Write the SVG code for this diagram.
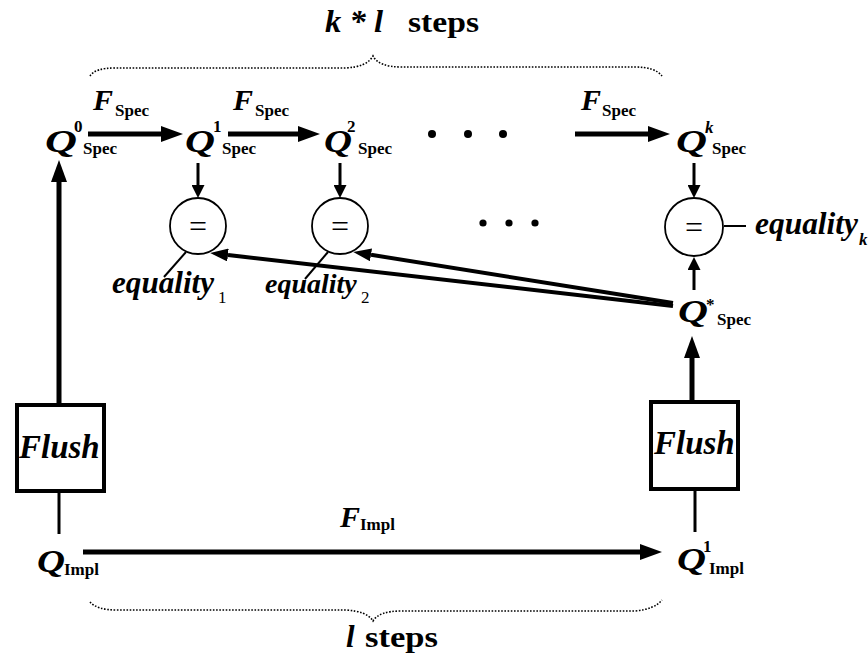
<svg xmlns="http://www.w3.org/2000/svg" width="868" height="658" viewBox="0 0 868 658">
<style>
text{font-family:"Liberation Serif","Times New Roman",serif;fill:#000}
.bi{font-weight:bold;font-style:italic}
.b{font-weight:bold}
.q{font-weight:bold;font-style:italic;font-size:32px}
.f{font-weight:bold;font-style:italic;font-size:30px}
.sub{font-weight:bold;font-size:17px}
.sup{font-weight:bold;font-size:17px}
.eq{font-weight:bold;font-style:italic;font-size:32px}
.esub{font-size:17px}
.thick{stroke:#000;stroke-width:5;fill:none}
.mid{stroke:#000;stroke-width:4;fill:none}
.thin{stroke:#000;stroke-width:3;fill:none}
.hair{stroke:#000;stroke-width:2;fill:none}
.brace{stroke:#000;stroke-width:1.6;fill:none;stroke-dasharray:1.6 1.6}
.box{stroke:#000;stroke-width:4;fill:#fff}
.circ{stroke:#000;stroke-width:1.8;fill:#fff}
</style>
<defs>
<marker id="big" markerUnits="userSpaceOnUse" markerWidth="22" markerHeight="16" viewBox="0 0 22 16" refX="0" refY="8" orient="auto"><path d="M0,0 L22,8 L0,16 z" fill="#000"/></marker>
<marker id="med" markerUnits="userSpaceOnUse" markerWidth="18" markerHeight="13" viewBox="0 0 18 13" refX="0" refY="6.5" orient="auto"><path d="M0,0 L18,6.5 L0,13 z" fill="#000"/></marker>
<marker id="small" markerUnits="userSpaceOnUse" markerWidth="13" markerHeight="13" viewBox="0 0 13 13" refX="0" refY="6.5" orient="auto"><path d="M0,0 L13,6.5 L0,13 z" fill="#000"/></marker>
</defs>

<g id="title">
<text class="bi" x="325" y="32" font-size="31" textLength="58" lengthAdjust="spacingAndGlyphs">k * l</text>
<text class="b" x="408" y="32" font-size="30" textLength="71" lengthAdjust="spacingAndGlyphs">steps</text>
</g>
<g id="bottom-label">
<text class="bi" x="346" y="647" font-size="31">l</text>
<text class="b" x="365" y="647" font-size="30" textLength="73" lengthAdjust="spacingAndGlyphs">steps</text>
</g>

<g id="braces">
<path class="brace" d="M90,76 Q95,68 115,68 L345,68 Q367,67 373,56 Q379,67 401,67 L635,67 Q655,67 662,76"/>
<path class="brace" d="M90,602 Q97,610 117,610 L345,610 Q367,611 373,621 Q379,611 401,611 L635,611 Q655,609 662,600"/>
</g>

<g id="connectors">
<line class="thick" x1="88" y1="134" x2="161" y2="134" marker-end="url(#big)"/>
<line class="thick" x1="228" y1="134" x2="298" y2="134" marker-end="url(#big)"/>
<line class="thick" x1="575" y1="134" x2="648" y2="134" marker-end="url(#big)"/>
<line class="thick" x1="83" y1="552" x2="640" y2="552" marker-end="url(#big)"/>
<line class="thick" x1="59" y1="404" x2="59" y2="182" marker-end="url(#big)"/>
<line class="thick" x1="692" y1="402" x2="692" y2="358" marker-end="url(#big)"/>
<line class="thin" x1="198" y1="163" x2="198" y2="185" marker-end="url(#small)"/>
<line class="thin" x1="340" y1="163" x2="340" y2="185" marker-end="url(#small)"/>
<line class="thin" x1="694" y1="163" x2="694" y2="185" marker-end="url(#small)"/>
<line class="thin" x1="694" y1="290" x2="694" y2="270" marker-end="url(#small)"/>
<line class="mid" x1="673" y1="306" x2="228" y2="255" marker-end="url(#med)"/>
<line class="mid" x1="673" y1="303" x2="371" y2="254.8" marker-end="url(#med)"/>
<line class="hair" x1="186" y1="252" x2="164" y2="277"/>
<line class="hair" x1="328" y1="252" x2="305" y2="279"/>
<line class="hair" x1="724" y1="226" x2="746" y2="226"/>
<line class="thin" x1="59" y1="491" x2="59" y2="534"/>
<line class="thin" x1="695" y1="489" x2="695" y2="532"/>
</g>

<g id="f-labels">
<text class="f" x="93" y="110">F</text><text class="sub" x="115" y="116">Spec</text>
<text class="f" x="233" y="110">F</text><text class="sub" x="255" y="116">Spec</text>
<text class="f" x="581" y="110">F</text><text class="sub" x="602" y="116">Spec</text>
<text class="f" x="340" y="527">F</text><text class="sub" x="360" y="530">Impl</text>
</g>

<g id="dots">
<circle cx="432" cy="134" r="4"/><circle cx="468" cy="134" r="4"/><circle cx="503" cy="134" r="4"/>
<circle cx="483" cy="223" r="3.6"/><circle cx="509" cy="223" r="3.6"/><circle cx="535" cy="223" r="3.6"/>
</g>

<g id="q0-spec"><text class="q" x="45" y="152" textLength="32" lengthAdjust="spacingAndGlyphs">Q</text><text class="sup" x="74" y="132">0</text><text class="sub" x="83" y="154">Spec</text></g>
<g id="q1-spec"><text class="q" x="185" y="152" textLength="30" lengthAdjust="spacingAndGlyphs">Q</text><text class="sup" x="213" y="132">1</text><text class="sub" x="222" y="154">Spec</text></g>
<g id="q2-spec"><text class="q" x="324" y="152" textLength="28" lengthAdjust="spacingAndGlyphs">Q</text><text class="sup" x="347" y="132">2</text><text class="sub" x="358" y="154">Spec</text></g>
<g id="qk-spec"><text class="q" x="676" y="152" textLength="31" lengthAdjust="spacingAndGlyphs">Q</text><text class="sup" x="705" y="133" font-style="italic">k</text><text class="sub" x="712" y="154">Spec</text></g>
<g id="qstar-spec"><text class="q" x="678" y="322" textLength="30" lengthAdjust="spacingAndGlyphs">Q</text><text class="sup" x="706" y="310">*</text><text class="sub" x="717" y="325">Spec</text></g>
<g id="q-impl"><text class="q" x="37" y="572" textLength="28" lengthAdjust="spacingAndGlyphs">Q</text><text class="sub" x="64" y="575">Impl</text></g>
<g id="q1-impl"><text class="q" x="677" y="570" textLength="29" lengthAdjust="spacingAndGlyphs">Q</text><text class="sup" x="703" y="552">1</text><text class="sub" x="709" y="574">Impl</text></g>

<g id="eq1"><circle class="circ" cx="198" cy="226" r="28"/><text x="198" y="237" font-size="32" text-anchor="middle">=</text></g>
<g id="eq2"><circle class="circ" cx="340" cy="226" r="28"/><text x="340" y="237" font-size="32" text-anchor="middle">=</text></g>
<g id="eqk"><circle class="circ" cx="694" cy="227" r="29"/><text x="694" y="238" font-size="32" text-anchor="middle">=</text></g>

<g id="equality-labels">
<text class="eq" x="112" y="293" textLength="102" lengthAdjust="spacingAndGlyphs">equality</text><text class="esub" x="218" y="303">1</text>
<text class="eq" x="265" y="293" style="font-size:28px">equality</text><text class="esub" x="361" y="303">2</text>
<text class="eq" x="755" y="234" textLength="103" lengthAdjust="spacingAndGlyphs">equality</text><text class="esub" x="859" y="245" font-style="italic" font-weight="bold">k</text>
</g>

<g id="flush-left"><rect class="box" x="17" y="405" width="87" height="86"/><text class="bi" x="19" y="458" font-size="33">Flush</text></g>
<g id="flush-right"><rect class="box" x="651" y="402" width="87" height="87"/><text class="bi" x="654" y="454" font-size="33">Flush</text></g>
</svg>
